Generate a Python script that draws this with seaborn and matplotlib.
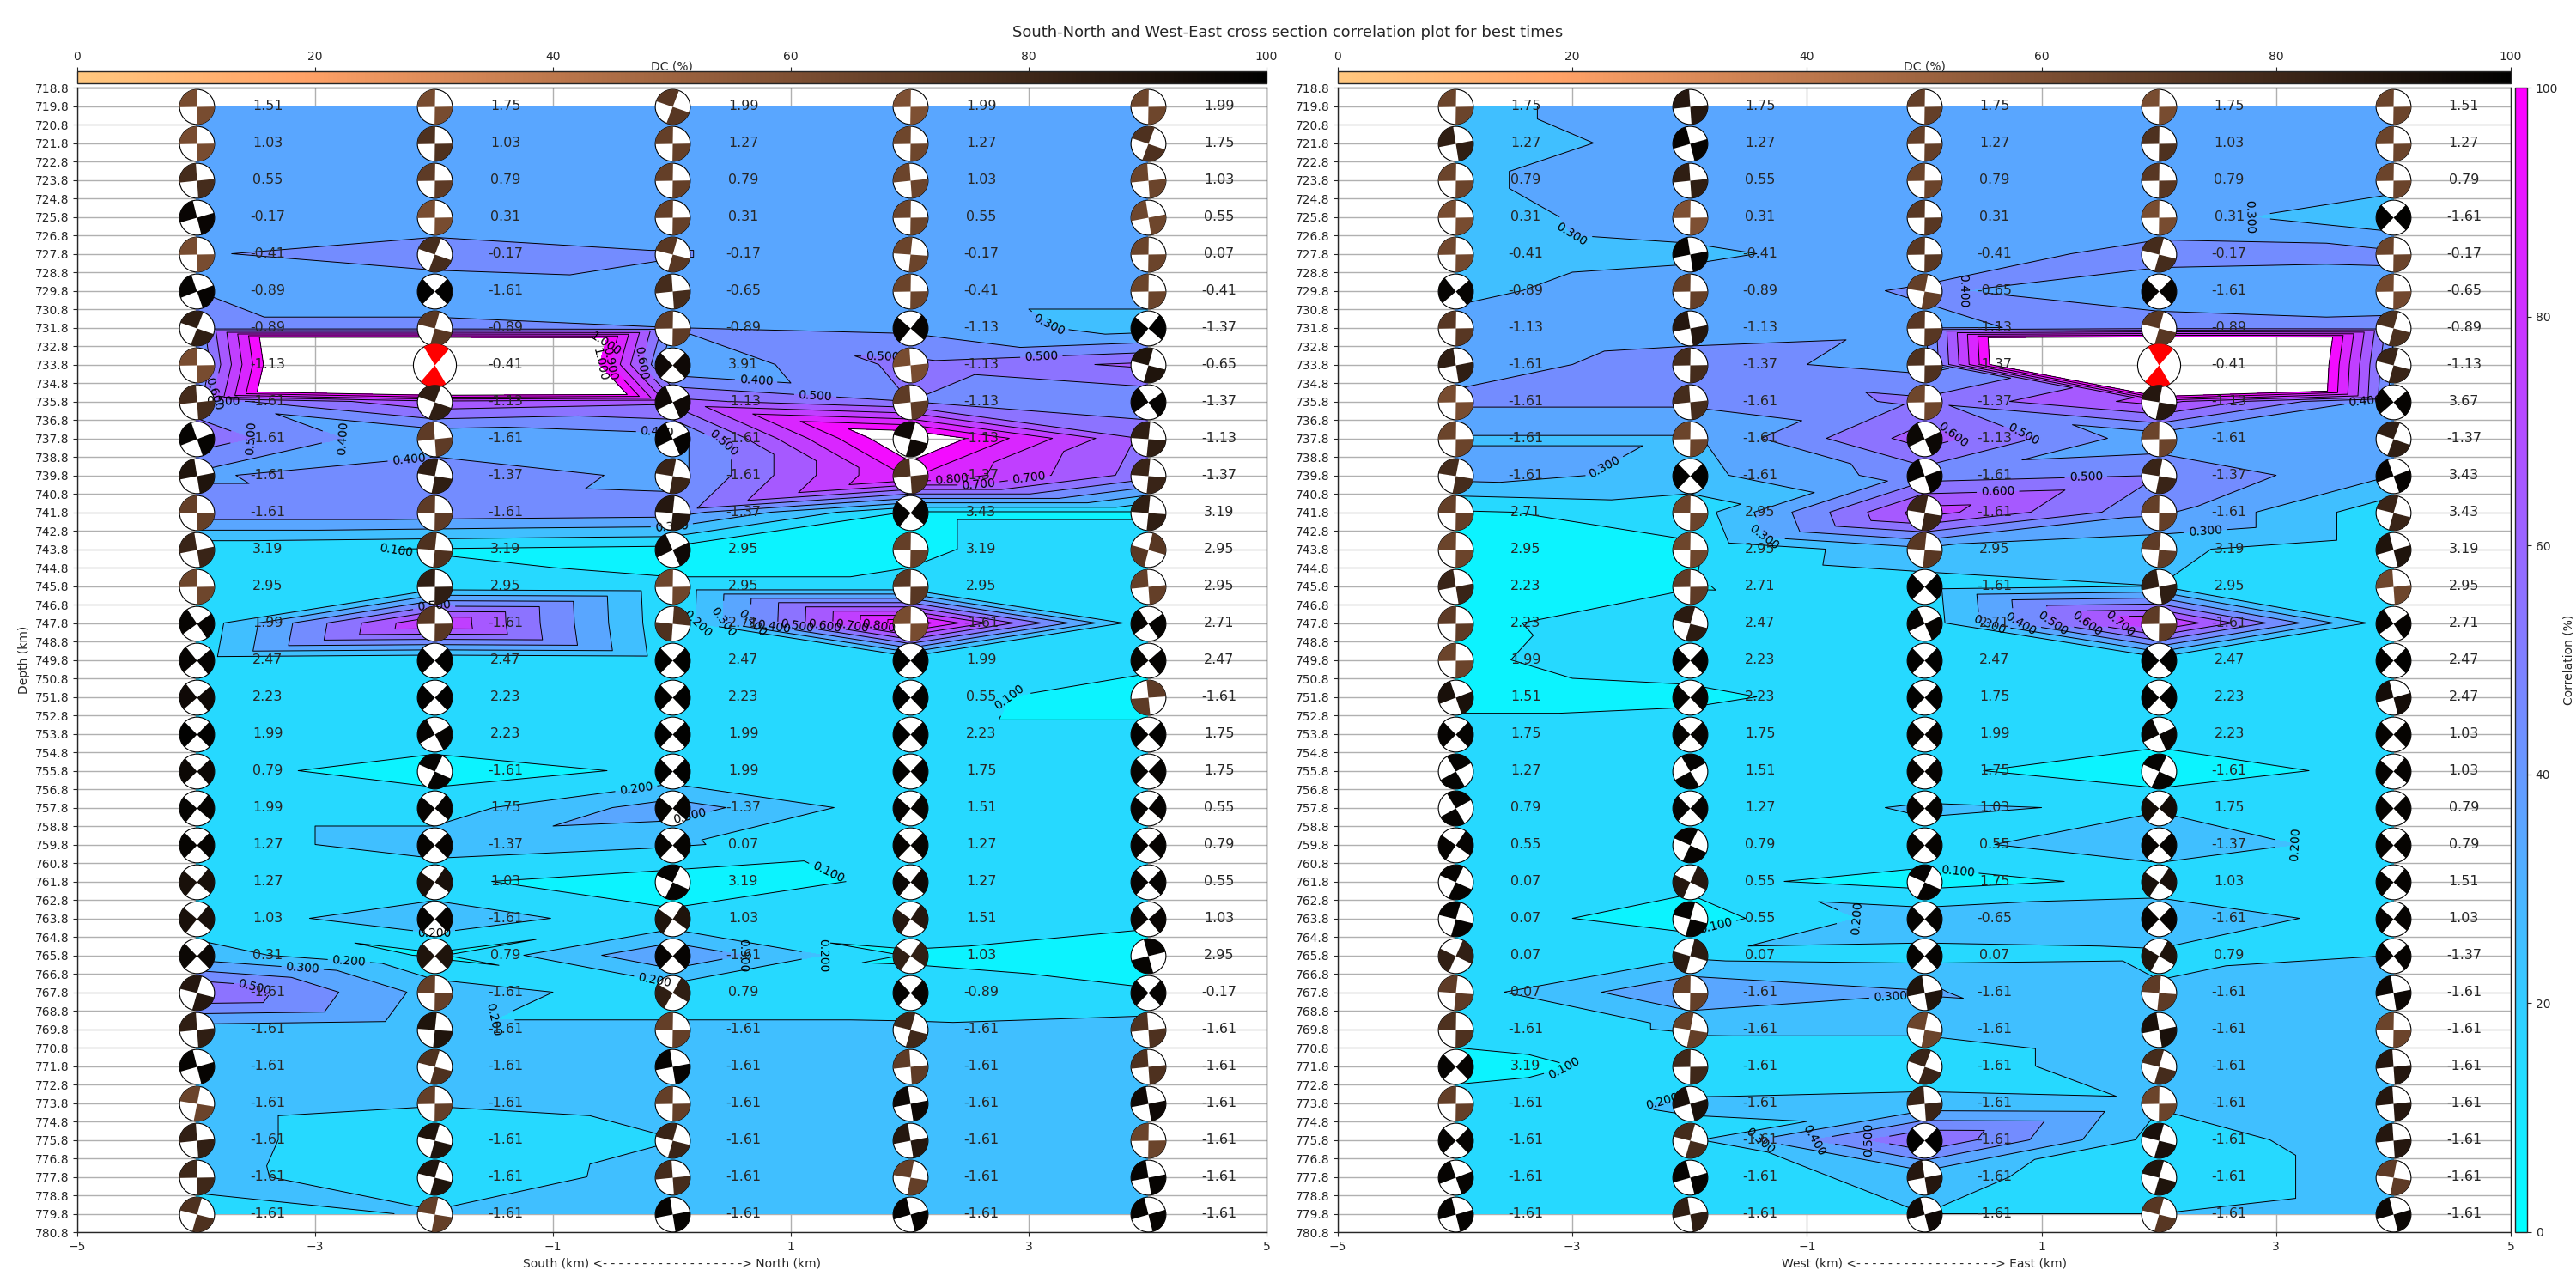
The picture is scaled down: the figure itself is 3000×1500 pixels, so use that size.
import numpy as np
import pandas as pd
import matplotlib
matplotlib.use("Agg")
import matplotlib.pyplot as plt
import matplotlib.tri as mtri
from matplotlib.path import Path
import seaborn as sns

distance = [-4, -2, 0, 2, 4]
depths = [719.8, 721.8, 723.8, 725.8, 727.8, 729.8, 731.8, 733.8, 735.8, 737.8, 739.8, 741.8, 743.8, 745.8, 747.8, 749.8,
          751.8, 753.8, 755.8, 757.8, 759.8, 761.8, 763.8, 765.8, 767.8, 769.8, 771.8, 773.8, 775.8, 777.8, 779.8]
depth_ticks = [718.8 + i for i in range(63)]
contour_levels = [0, .1, .2, .3, .4, .5, .6, .7, .8, .9, 1.0]

corr_sn = [
    [.35, .35, .35, .35, .35], [.35, .35, .35, .35, .35], [.35, .35, .35, .35, .35], [.35, .35, .35, .35, .35],
    [.393, .44, .405, .35, .35], [.40, .35, .37, .35, .35], [.42, .42, .40, .375, .25], [.37, 2.6, .30, .53, .62],
    [.45, .68, .63, .50, .42], [.56, .30, .36, 1.13, .58], [.38, .50, .36, .92, .55], [.47, .47, .45, .09, .09],
    [.12, .095, .07, .09, .14], [.15, .13, .11, .11, .12], [.12, .81, .115, .98, .11], [.14, .11, .13, .12, .13],
    [.15, .15, .15, .136, .05], [.15, .15, .15, .13, .13], [.13, .06, .115, .15, .15], [.15, .15, .35, .13, .15],
    [.15, .25, .21, .14, .15], [.15, .116, .05, .118, .15], [.13, .277, .12, .15, .13], [.25, .085, .39, .09, .03],
    [.61, .26, .14, .13, .11], [.25, .22, .22, .22, .25], [.25, .25, .25, .25, .25], [.25, .21, .25, .25, .25],
    [.25, .105, .197, .25, .25], [.24, .11, .25, .25, .25], [.15, .21, .25, .25, .25]]
corr_we = [
    [.273, .35, .35, .35, .35], [.228, .35, .35, .35, .35], [.285, .35, .35, .35, .35], [.26, .35, .35, .35, .22],
    [.25, .28, .35, .43, .42], [.28, .35, .41, .35, .36], [.33, .36, .38, .44, .42], [.36, .44, .36, 2.66, .37],
    [.42, .42, .52, .74, .35], [.29, .29, .65, .33, .33], [.34, .27, .45, .5, .3], [.09, .13, .75, .42, .13],
    [.05, .09, .28, .22, .13], [.05, .095, .15, .2, .15], [.08, .15, .14, .82, .12], [.0875, .14, .15, .15, .15],
    [.06, .08, .15, .15, .15], [.15, .15, .15, .15, .15], [.15, .15, .127, .02, .145], [.15, .15, .21, .19, .18],
    [.15, .15, .17, .27, .15], [.15, .127, .06, .127, .15], [.15, .05, .26, .29, .14], [.15, .18, .17, .18, .2],
    [.15, .39, .31, .21, .25], [.15, .21, .21, .25, .25], [.05, .15, .155, .25, .25], [.15, .21, .22, .21, .25],
    [.15, .18, .60, .155, .25], [.15, .14, .24, .13, .25], [.15, .15, .2, .2, .25]]

mag_sn = [
    [1.51, 1.75, 1.99, 1.99, 1.99], [1.03, 1.03, 1.27, 1.27, 1.75], [.55, .79, .79, 1.03, 1.03], [-.17, .31, .31, .55, .55],
    [-.41, -.17, -.17, -.17, .07], [-.89, -1.61, -.65, -.41, -.41], [-.89, -.89, -.89, -1.13, -1.37], [-1.13, -.41, 3.91, -1.13, -.65],
    [-1.61, -1.13, -1.13, -1.13, -1.37], [-1.61, -1.61, -1.61, -1.13, -1.13], [-1.61, -1.37, -1.61, -1.37, -1.37], [-1.61, -1.61, -1.37, 3.43, 3.19],
    [3.19, 3.19, 2.95, 3.19, 2.95], [2.95, 2.95, 2.95, 2.95, 2.95], [1.99, -1.61, 2.71, -1.61, 2.71], [2.47, 2.47, 2.47, 1.99, 2.47],
    [2.23, 2.23, 2.23, .55, -1.61], [1.99, 2.23, 1.99, 2.23, 1.75], [.79, -1.61, 1.99, 1.75, 1.75], [1.99, 1.75, -1.37, 1.51, .55],
    [1.27, -1.37, .07, 1.27, .79], [1.27, 1.03, 3.19, 1.27, .55], [1.03, -1.61, 1.03, 1.51, 1.03], [.31, .79, -1.61, 1.03, 2.95],
    [-1.61, -1.61, .79, -.89, -.17], [-1.61, -1.61, -1.61, -1.61, -1.61], [-1.61, -1.61, -1.61, -1.61, -1.61], [-1.61, -1.61, -1.61, -1.61, -1.61],
    [-1.61, -1.61, -1.61, -1.61, -1.61], [-1.61, -1.61, -1.61, -1.61, -1.61], [-1.61, -1.61, -1.61, -1.61, -1.61]]
mag_we = [
    [1.75, 1.75, 1.75, 1.75, 1.51], [1.27, 1.27, 1.27, 1.03, 1.27], [.79, .55, .79, .79, .79], [.31, .31, .31, .31, -1.61],
    [-.41, -.41, -.41, -.17, -.17], [-.89, -.89, -.65, -1.61, -.65], [-1.13, -1.13, -1.13, -.89, -.89], [-1.61, -1.37, -1.37, -.41, -1.13],
    [-1.61, -1.61, -1.37, -1.13, 3.67], [-1.61, -1.61, -1.13, -1.61, -1.37], [-1.61, -1.61, -1.61, -1.37, 3.43], [2.71, 2.95, -1.61, -1.61, 3.43],
    [2.95, 2.95, 2.95, 3.19, 3.19], [2.23, 2.71, -1.61, 2.95, 2.95], [2.23, 2.47, 2.71, -1.61, 2.71], [1.99, 2.23, 2.47, 2.47, 2.47],
    [1.51, 2.23, 1.75, 2.23, 2.47], [1.75, 1.75, 1.99, 2.23, 1.03], [1.27, 1.51, 1.75, -1.61, 1.03], [.79, 1.27, 1.03, 1.75, .79],
    [.55, .79, .55, -1.37, .79], [.07, .55, 1.75, 1.03, 1.51], [.07, .55, -.65, -1.61, 1.03], [.07, .07, .07, .79, -1.37],
    [.07, -1.61, -1.61, -1.61, -1.61], [-1.61, -1.61, -1.61, -1.61, -1.61], [3.19, -1.61, -1.61, -1.61, -1.61], [-1.61, -1.61, -1.61, -1.61, -1.61],
    [-1.61, -1.61, -1.61, -1.61, -1.61], [-1.61, -1.61, -1.61, -1.61, -1.61], [-1.61, -1.61, -1.61, -1.61, -1.61]]

# direction of the dark compressional lobes (degrees clockwise from north)
lobe_sn = [
    [135, 135, 155, 135, 135], [135, 135, 135, 135, 155], [130, 135, 135, 130, 130], [120, 135, 135, 135, 125],
    [135, 155, 150, 140, 135], [115, 90, 130, 135, 135], [155, 150, 135, 85, 85], [135, 5, 90, 130, 150],
    [130, 155, 110, 130, 100], [115, 130, 110, 150, 140], [125, 145, 145, 130, 140], [135, 135, 140, 85, 140],
    [125, 140, 110, 135, 60], [135, 135, 135, 135, 130], [100, 135, 50, 135, 100], [95, 90, 90, 90, 95],
    [95, 90, 90, 90, 40], [90, 105, 90, 90, 90], [92, 160, 90, 90, 90], [85, 85, 85, 85, 85],
    [90, 90, 90, 90, 90], [85, 80, 160, 85, 90], [85, 90, 80, 80, 95], [90, 90, 90, 80, 30],
    [150, 135, 75, 90, 90], [130, 140, 135, 150, 130], [120, 150, 125, 130, 130], [145, 135, 135, 125, 125],
    [130, 150, 150, 125, 135], [135, 150, 130, 145, 125], [150, 145, 125, 120, 120]]
lobe_we = [
    [135, 130, 135, 135, 135], [125, 120, 135, 135, 135], [135, 130, 135, 135, 135], [135, 135, 135, 135, 90],
    [135, 125, 135, 150, 135], [95, 135, 145, 90, 135], [135, 125, 135, 150, 150], [125, 135, 135, 5, 150],
    [135, 130, 135, 145, 95], [135, 135, 110, 135, 155], [145, 90, 115, 145, 115], [135, 135, 145, 135, 150],
    [135, 135, 140, 140, 120], [125, 135, 90, 125, 130], [135, 150, 110, 135, 100], [135, 90, 90, 90, 90],
    [115, 90, 90, 90, 120], [90, 90, 90, 110, 90], [15, 15, 90, 160, 85], [15, 90, 90, 85, 90],
    [80, 160, 90, 90, 90], [160, 70, 160, 80, 85], [150, 150, 90, 90, 85], [70, 60, 90, 75, 95],
    [140, 135, 125, 140, 125], [135, 145, 145, 125, 135], [90, 135, 155, 150, 130], [135, 120, 130, 135, 130],
    [90, 150, 90, 150, 130], [115, 120, 125, 150, 145], [120, 125, 120, 150, 120]]

dc_sn = [
    [62, 62, 72, 60, 65], [62, 75, 68, 65, 75], [78, 70, 68, 66, 66], [97, 62, 68, 66, 65],
    [62, 78, 72, 66, 66], [98, 99, 78, 66, 66], [85, 72, 70, 98, 99], [62, 50, 95, 62, 90],
    [78, 85, 95, 70, 98], [98, 70, 98, 95, 85], [90, 85, 82, 75, 82], [68, 70, 88, 98, 85],
    [82, 75, 95, 68, 72], [65, 85, 65, 72, 68], [98, 72, 75, 62, 98], [98, 99, 99, 99, 98],
    [95, 99, 99, 99, 70], [99, 98, 99, 99, 99], [96, 98, 99, 99, 98], [98, 98, 98, 98, 98],
    [98, 98, 98, 98, 98], [92, 92, 98, 96, 98], [92, 98, 90, 88, 97], [96, 90, 98, 84, 98],
    [88, 68, 85, 98, 98], [85, 90, 68, 80, 75], [98, 75, 98, 70, 75], [66, 68, 68, 96, 95],
    [84, 90, 82, 88, 66], [80, 90, 78, 68, 98], [75, 68, 98, 98, 98]]
dc_we = [
    [66, 88, 68, 62, 66], [85, 98, 68, 75, 66], [66, 85, 66, 72, 66], [62, 60, 72, 62, 99],
    [64, 98, 72, 78, 66], [98, 68, 68, 98, 64], [72, 88, 72, 72, 76], [85, 78, 75, 50, 82],
    [62, 78, 65, 88, 98], [66, 66, 96, 66, 85], [78, 99, 98, 82, 98], [68, 66, 82, 68, 82],
    [66, 65, 72, 70, 90], [82, 70, 99, 85, 65], [70, 86, 98, 70, 98], [66, 99, 99, 99, 99],
    [92, 98, 99, 99, 93], [98, 98, 98, 97, 98], [98, 98, 98, 98, 98], [98, 98, 98, 94, 98],
    [98, 98, 98, 98, 98], [98, 88, 98, 92, 98], [98, 98, 98, 98, 98], [84, 86, 98, 90, 98],
    [70, 68, 90, 70, 96], [75, 68, 66, 92, 66], [98, 80, 82, 78, 88], [68, 92, 82, 66, 88],
    [98, 78, 99, 92, 88], [98, 98, 88, 90, 70], [98, 85, 95, 72, 96]]

best_sn = (733.8, -2)
best_we = (733.8, 2)

# grid cells (row, column) whose triangulation diagonal runs against the checkerboard
flips_sn = {(4, 1), (14, 0), (13, 1), (14, 1), (13, 2), (9, 2), (9, 3), (8, 3), (10, 2), (10, 3), (20, 2),
            (27, 0), (28, 0), (27, 1), (28, 1), (29, 1), (29, 0), (7, 2), (15, 3), (19, 0), (19, 1)}
flips_we = {(7, 2), (11, 1), (10, 2), (13, 2), (27, 1), (28, 1), (28, 2), (4, 2), (5, 2)}

labels_sn = [(3.16, 731.7), (3.11, 733.9), (1.77, 733.5), (1.21, 735.05), (.71, 734.5), (-.26, 733.7), (-.55, 733.7),
             (-.65, 733.7), (-.69, 733.8), (-3.84, 735.4), (-3.77, 735.75), (-3.47, 737.8), (-2.74, 737.8), (-2.2, 739.8),
             (.42, 738.2), (-.13, 738.7), (2.35, 739.8), (3.0, 739.85), (2.58, 740.3), (-2.32, 743.9), (0, 742.7),
             (.22, 747.75), (.42, 747.75), (.68, 747.75), (.84, 747.75), (1.06, 747.75), (1.29, 747.75), (1.52, 747.75),
             (1.74, 747.75), (-2, 746.9), (2.84, 751.8), (-.32, 755.8), (.15, 758.2), (1.39, 760.3), (-2, 764.8),
             (1.32, 765.9), (.66, 765.9), (-2.72, 766.45), (-3.11, 766.8), (-3.5, 767.3), (-1.55, 769.3), (-.16, 767.7)]
labels_we = [(-3.02, 726.8), (2.63, 725.8), (.26, 729.85), (-2.69, 739.76), (.24, 737.75), (.84, 737.65), (-1.41, 743.25),
             (2.39, 742.2), (1.38, 740.4), (.63, 741.15), (.56, 747.75), (.82, 747.75), (1.1, 747.75), (1.39, 747.75),
             (1.67, 747.75), (3.76, 735.8), (3.31, 759.9), (.28, 761.5), (-1.79, 763.9), (-.44, 763.9), (-.29, 768.0),
             (-3.07, 771.85), (-2.23, 773.8), (-1.4, 775.9), (-.94, 775.9), (-.49, 775.9)]

panels = [
    (corr_sn, mag_sn, lobe_sn, dc_sn, best_sn, flips_sn, labels_sn,
     "South (km) <- - - - - - - - - - - - - - - - - -> North (km)", [90, 1475]),
    (corr_we, mag_we, lobe_we, dc_we, best_we, flips_we, labels_we,
     "West (km) <- - - - - - - - - - - - - - - - - -> East (km)", [1558, 2924]),
]

sns.set_style("ticks")
plt.rcParams["font.family"] = ["DejaVu Sans"]
plt.rcParams["axes.linewidth"] = 1.0
cool = sns.color_palette("cool", as_cmap=True)
copper_r = sns.color_palette("copper_r", as_cmap=True)

W, H = 3000, 1500
top, bottom = 102, 1435
fig = plt.figure(figsize=(30, 15), dpi=100)


def lobes(azim, width=92):
    verts, codes = [], []
    for base in (azim, azim + 180):
        ang = np.radians(np.linspace(base - width / 2, base + width / 2, 40))
        pts = np.column_stack([np.sin(ang), np.cos(ang)])
        verts += [[0, 0]] + pts.tolist() + [[0, 0]]
        codes += [Path.MOVETO] + [Path.LINETO] * 40 + [Path.CLOSEPOLY]
    return Path(verts, codes)


def cell_triangles(flips):
    nc = len(distance)
    out = []
    for r in range(len(depths) - 1):
        for c in range(nc - 1):
            tl, tr = r * nc + c, r * nc + c + 1
            bl, br = (r + 1) * nc + c, (r + 1) * nc + c + 1
            backslash = (r + c) % 2 == 0
            if (r, c) in flips:
                backslash = not backslash
            if backslash:
                out += [[tl, tr, br], [tl, br, bl]]
            else:
                out += [[tl, tr, bl], [tr, br, bl]]
    return out


for corr, mag, lobe, dc, best, flips, label_pts, xlabel, (xa, xb) in panels:
    ax = fig.add_axes([xa / W, 1 - bottom / H, (xb - xa) / W, (bottom - top) / H])
    X, Y = np.meshgrid(distance, depths)
    Z = np.array(corr, dtype=float)
    tri = mtri.Triangulation(X.ravel(), Y.ravel(), cell_triangles(flips))
    ax.tricontourf(tri, Z.ravel(), levels=contour_levels, cmap=cool, vmin=0, vmax=1, zorder=1)
    cs = ax.tricontour(tri, Z.ravel(), levels=contour_levels, colors="k", linewidths=0.7, zorder=2)

    ax.set_xlim(-5, 5)
    ax.set_ylim(780.8, 718.8)
    ax.clabel(cs, fmt="%.3f", fontsize=10, colors="k", manual=label_pts)

    ax.grid(True, color="#b0b0b0", linewidth=1.0)
    frame = pd.DataFrame({"x": X.ravel(), "depth": Y.ravel()})
    frame = frame[~((frame["x"] == best[1]) & (frame["depth"] == best[0]))]
    sns.scatterplot(data=frame, x="x", y="depth", s=860, color="white", edgecolor="k",
                    linewidth=0.8, zorder=3, ax=ax, legend=False)
    for i, d in enumerate(depths):
        for j, x in enumerate(distance):
            ax.text(x + 0.6, d, f"{mag[i][j]:.2f}", ha="center", va="center", fontsize=11.4, zorder=6)
            if (d, x) == best:
                ax.scatter([x], [d], s=1300, color="white", edgecolor="k", linewidth=0.8, zorder=3)
                ax.scatter([x], [d], s=1300, marker=lobes(lobe[i][j], 72), color="red", linewidth=0, zorder=4)
            else:
                ax.scatter([x], [d], s=860, marker=lobes(lobe[i][j]), color=copper_r(dc[i][j] / 100),
                           linewidth=0, zorder=4)

    ax.set_xlim(-5, 5)
    ax.set_ylim(780.8, 718.8)
    ax.set_xticks([-5, -3, -1, 1, 3, 5])
    ax.set_yticks(depth_ticks)
    ax.set_yticklabels([f"{t:.1f}" for t in depth_ticks])
    ax.tick_params(labelsize=10, length=3.5, width=0.8)
    ax.set_xlabel(xlabel, fontsize=10)
    ax.set_ylabel("Depth (km)" if xa < 1000 else "", fontsize=10)
    for s in ("top", "right", "left", "bottom"):
        ax.spines[s].set_visible(True)

    cax = fig.add_axes([xa / W, 1 - 97 / H, (xb - xa) / W, 14 / H])
    dc_map = plt.cm.ScalarMappable(norm=plt.Normalize(0, 100), cmap=copper_r)
    cb = fig.colorbar(dc_map, cax=cax, orientation="horizontal")
    cb.set_ticks([0, 20, 40, 60, 80, 100])
    cax.xaxis.set_ticks_position("top")
    cax.tick_params(labelsize=10, length=3.5, width=0.8)
    cax.annotate("DC (%)", (0.5, 1), xycoords="axes fraction", xytext=(0, 4.3), textcoords="offset points",
                 ha="center", va="center", fontsize=10)

cax = fig.add_axes([2929 / W, 1 - bottom / H, 14 / W, (bottom - top) / H])
corr_map = plt.cm.ScalarMappable(norm=plt.Normalize(0, 100), cmap=cool)
cb = fig.colorbar(corr_map, cax=cax)
cb.set_ticks([0, 20, 40, 60, 80, 100])
cb.ax.tick_params(labelsize=10, length=3.5, width=0.8)
cb.set_label("Correlation (%)", fontsize=10)

fig.suptitle("South-North and West-East cross section correlation plot for best times", fontsize=13,
             x=0.5, y=1 - 38 / H, va="center")
fig.savefig("out.png", dpi=100)
